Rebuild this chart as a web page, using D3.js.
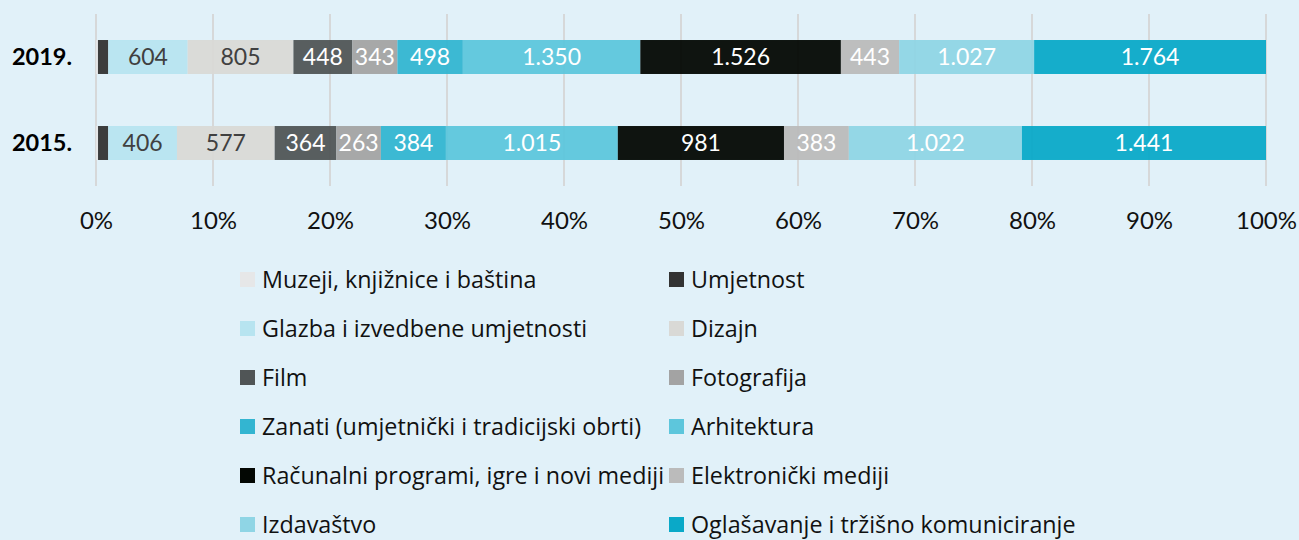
<!DOCTYPE html>
<html>
<head>
<meta charset="utf-8">
<script src="https://cdn.jsdelivr.net/npm/d3@7"></script>
<style>
  html, body { margin: 0; padding: 0; background: #e1f1f9; }
  svg { display: block; font-family: Lato, "Open Sans", sans-serif; }
</style>
</head>
<body>
<svg id="chart" width="1299" height="540"></svg>
<script>
// rows of the stacked bar, top to bottom
const years = ['2019.', '2015.'];

// series, in stacking order (also legend order)
const sectors = [
  'Muzeji, knjižnice i baština',
  'Umjetnost',
  'Glazba i izvedbene umjetnosti',
  'Dizajn',
  'Film',
  'Fotografija',
  'Zanati (umjetnički i tradicijski obrti)',
  'Arhitektura',
  'Računalni programi, igre i novi mediji',
  'Elektronički mediji',
  'Izdavaštvo',
  'Oglašavanje i tržišno komuniciranje'
];

const values2019 = [15, 78, 604, 805, 448, 343, 498, 1350, 1526, 443, 1027, 1764];
const values2015 = [12, 60, 406, 577, 364, 263, 384, 1015, 981, 383, 1022, 1441];

const colors = ['#e6e7e8', '#333333', '#b7e4f0', '#d9d9d6', '#505556', '#a3a3a3',
                '#33b5d1', '#5dc6dc', '#030703', '#bbbbbb', '#8fd5e5', '#0aa9c8'];
const darkText = ['Glazba i izvedbene umjetnosti', 'Dizajn'];

const ticks = [0, .1, .2, .3, .4, .5, .6, .7, .8, .9, 1];

// ----- build table for d3.stack
const table = years.map((y, i) => {
  const vals = i === 0 ? values2019 : values2015;
  const total = d3.sum(vals);
  const row = { year: y };
  sectors.forEach((s, j) => { row[s] = vals[j] / total; row['_' + s] = vals[j]; });
  return row;
});

const series = d3.stack().keys(sectors)(table);

const svg = d3.select('#chart');

const x = d3.scaleLinear().domain([0, 1]).range([96, 1266]);
const y = d3.scaleBand().domain(years).range([14, 186])
  .paddingInner(0.605).paddingOuter(0.3025);
const color = d3.scaleOrdinal().domain(sectors).range(colors);

const hr = d3.formatLocale({ decimal: ',', thousands: '.', grouping: [3], currency: ['', ''] });
const fmt = hr.format(',d');

// gridlines
svg.append('g')
  .selectAll('line')
  .data(ticks)
  .join('line')
    .attr('x1', d => x(d)).attr('x2', d => x(d))
    .attr('y1', 14).attr('y2', 186)
    .attr('stroke', '#d6d8d9')
    .attr('stroke-width', 2);

// bars
const layer = svg.append('g')
  .selectAll('g')
  .data(series)
  .join('g')
    .attr('fill', d => color(d.key));

layer.selectAll('rect')
  .data(d => d.map(v => Object.assign(v, { key: d.key })))
  .join('rect')
    .attr('x', d => x(d[0]))
    .attr('y', d => y(d.data.year))
    .attr('width', d => x(d[1]) - x(d[0]))
    .attr('height', y.bandwidth())
    .attr('fill-opacity', 0.95);

// value labels
layer.selectAll('text')
  .data(d => d.filter(v => x(v[1]) - x(v[0]) > 25))
  .join('text')
    .attr('x', d => (x(d[0]) + x(d[1])) / 2)
    .attr('y', d => y(d.data.year) + y.bandwidth() / 2)
    .attr('dy', '0.35em')
    .attr('text-anchor', 'middle')
    .attr('font-size', 23)
    .attr('fill', d => darkText.includes(d.key) ? '#404040' : '#ffffff')
    .text(d => fmt(d.data['_' + d.key]));

// row labels
svg.append('g')
  .selectAll('text')
  .data(years)
  .join('text')
    .attr('x', 72)
    .attr('y', d => y(d) + y.bandwidth() / 2)
    .attr('dy', '0.35em')
    .attr('text-anchor', 'end')
    .attr('font-size', 23.5)
    .attr('font-weight', 'bold')
    .attr('fill', '#000')
    .text(d => d);

// x axis labels
const axis = svg.append('g')
  .attr('transform', 'translate(0,221)')
  .call(d3.axisBottom(x).tickValues(ticks).tickFormat(d3.format('.0%')).tickSize(0).tickPadding(0));
axis.select('.domain').remove();
axis.selectAll('text')
  .attr('dy', '0.35em')
  .attr('font-size', 24)
  .attr('font-family', 'Lato, sans-serif')
  .attr('fill', '#111');

// legend: two columns
const legend = svg.append('g')
  .selectAll('g')
  .data(sectors)
  .join('g')
    .attr('transform', (d, i) => `translate(${i % 2 === 0 ? 240 : 669},${279.5 + Math.floor(i / 2) * 49})`);

legend.append('rect')
  .attr('x', 0).attr('y', -7.5)
  .attr('width', 15).attr('height', 15)
  .attr('fill', d => color(d));

legend.append('text')
  .attr('x', 22)
  .attr('dy', '0.35em')
  .attr('font-size', 23.3)
  .attr('font-family', '"Open Sans", sans-serif')
  .attr('fill', '#111')
  .text(d => d);
</script>
</body>
</html>
